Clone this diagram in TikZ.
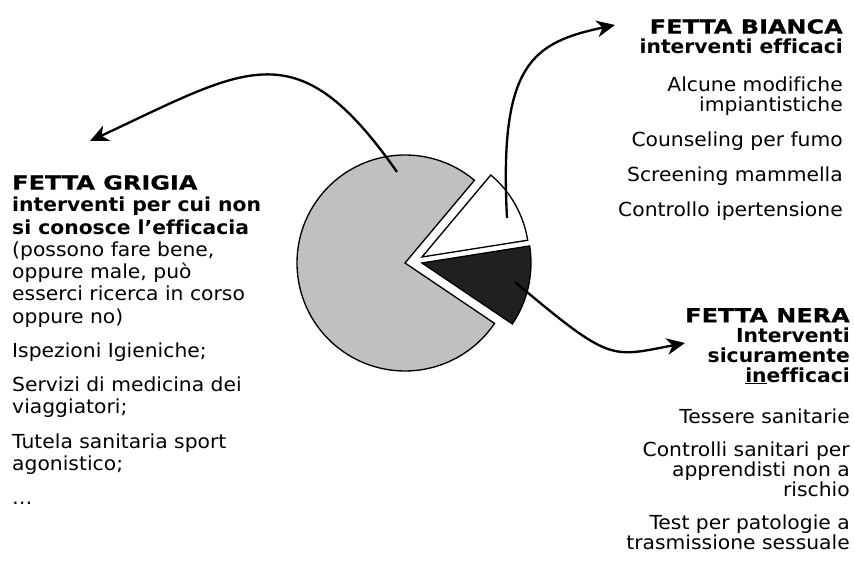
\documentclass[tikz,border=0pt]{standalone}
\usepackage{fontspec}
\setmainfont{DejaVu Sans}[FakeStretch=1.05, Ligatures=CommonOff]
\newfontfamily\headfont{DejaVu Sans}[FakeStretch=1.24, FakeBold=0.6]
\usetikzlibrary{arrows.meta}

\definecolor{slicegray}{HTML}{c0c0c0}
\definecolor{sliceblack}{HTML}{202020}
\newcommand{\fetta}[1]{{\headfont\bfseries #1}}

\begin{document}
\begin{tikzpicture}[x=0.03cm, y=0.03cm]
    \useasboundingbox (0,0) rectangle (854,563);
    \begin{scope}[slice/.style={draw=black, line width=0.04cm},
                  info/.style={inner sep=0pt, font=\fontsize{16.5}{19}\selectfont},
                  infor/.style={inner sep=0pt, font=\fontsize{16.5}{17}\selectfont, align=right, anchor=north east}]
        % the pie
        \filldraw[slice, fill=slicegray] (405,300) -- ++(50:108) arc[start angle=50, end angle=326, radius=108] -- cycle;
        \filldraw[slice, fill=white] (422,306) -- ++(9:107) arc[start angle=9, end angle=50, radius=107] -- cycle;
        \filldraw[slice, fill=sliceblack] (422,300) -- ++(-34:109) arc[start angle=-34, end angle=9, radius=109] -- cycle;

        \node[info, anchor=north west, align=left] (grigia) at (12,388) {\fetta{FETTA GRIGIA}\\
            \textbf{interventi per cui non}\\
            \textbf{si conosce l’efficacia}\\
            (possono fare bene,\\
            oppure male, può\\
            esserci ricerca in corso\\
            oppure no)\\[0.36cm]
            Ispezioni Igieniche;\\[0.36cm]
            Servizi di medicina dei\\
            viaggiatori;\\[0.36cm]
            Tutela sanitaria sport\\
            agonistico;\\[0.36cm]
            …};
        \node[infor] (bianca) at (843,544) {\fetta{FETTA BIANCA}\\
            \textbf{interventi efficaci}\\[0.54cm]
            Alcune modifiche\\
            impiantistiche\\[0.45cm]
            Counseling per fumo\\[0.45cm]
            Screening mammella\\[0.45cm]
            Controllo ipertensione};
        \node[infor] (nera) at (850,255) {\fetta{FETTA NERA}\\
            \textbf{Interventi}\\
            \textbf{sicuramente}\\
            \textbf{\underline{in}efficaci}\\[0.66cm]
            Tessere sanitarie\\[0.39cm]
            Controlli sanitari per\\
            apprendisti non a\\
            rischio\\[0.39cm]
            Test per patologie a\\
            trasmissione sessuale};

        \coordinate (gin) at (397,391);
        \coordinate (gtip) at (90,422);
        \coordinate (bin) at (507,345);
        \coordinate (btip) at (615,538);
        \coordinate (nin) at (515,281);
        \coordinate (ntip) at (685,220);
        \begin{scope}[line width=0.07cm, -{Stealth[length=0.55cm, width=0.5cm, inset=0.17cm]}]
        \path (gin) edge[out=125, in=25, looseness=1.45] (gtip);
        \path (bin) edge[out=93, in=192, out looseness=1.79, in looseness=0.98] (btip);
        \path (nin) edge[out=-40, in=191, out looseness=1.77, in looseness=1.08] (ntip);
        \end{scope}
    \end{scope}
\end{tikzpicture}
\end{document}
